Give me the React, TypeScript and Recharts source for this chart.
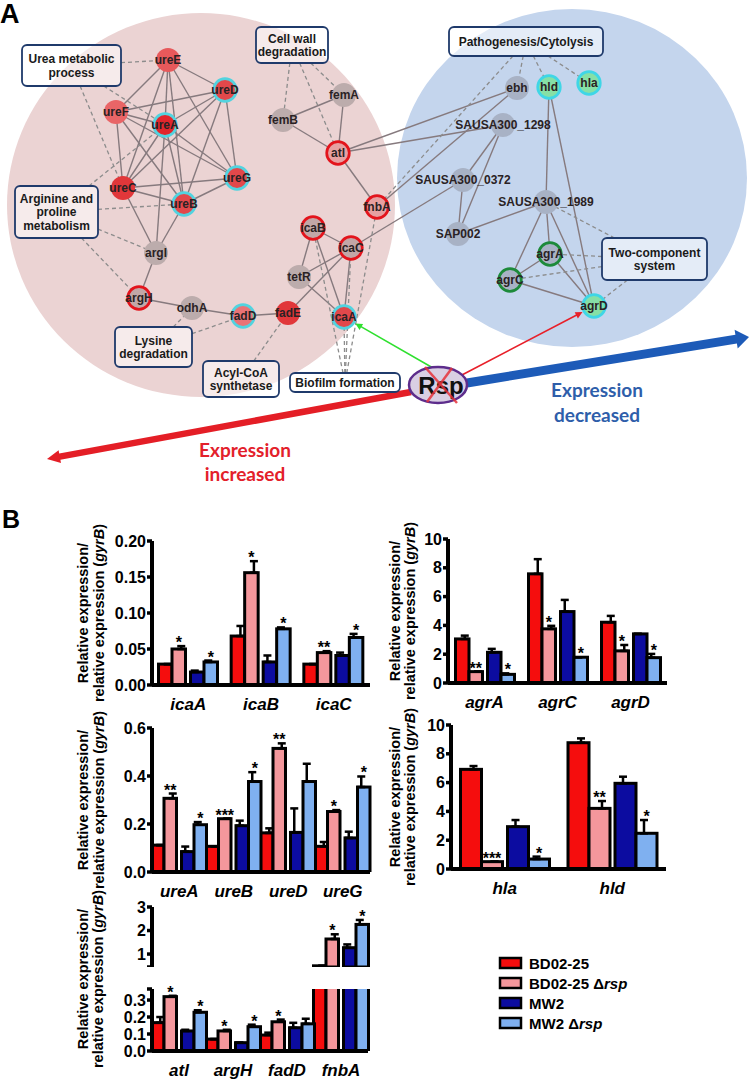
import React from 'react';
import { ScatterChart, Scatter, XAxis, YAxis, BarChart, Bar, ErrorBar, LabelList } from 'recharts';

const FONT = '"Liberation Sans", Arial, Helvetica, sans-serif';
const CAL = 'Lato, "Open Sans", sans-serif';

/* ======================= Panel B data ======================= */
const strainLabels = ['BD02-25', 'BD02-25', 'MW2', 'MW2'];
const strainIsDeletion = [false, true, false, true];

const icaGenes = ['icaA', 'icaB', 'icaC'];
const icaValues = [
  [0.029, 0.068, 0.029],
  [0.05, 0.156, 0.045],
  [0.018, 0.032, 0.041],
  [0.032, 0.078, 0.066],
];
const icaErrors = [
  [0, 0.014, 0],
  [0.004, 0.016, 0.002],
  [0.002, 0.009, 0.004],
  [0.002, 0.002, 0.005],
];
const icaStars = [
  ['', '', ''],
  ['*', '*', '**'],
  ['', '', ''],
  ['*', '*', '*'],
];
const icaTicks = [0, 0.05, 0.1, 0.15, 0.2];

const agrGenes = ['agrA', 'agrC', 'agrD'];
const agrValues = [
  [3.06, 7.58, 4.22],
  [0.79, 3.76, 2.23],
  [2.13, 4.96, 3.41],
  [0.6, 1.79, 1.76],
];
const agrErrors = [
  [0.23, 1.02, 0.44],
  [0, 0.21, 0.41],
  [0.24, 0.81, 0],
  [0.07, 0, 0.26],
];
const agrStars = [
  ['', '', ''],
  ['**', '*', '*'],
  ['', '', ''],
  ['*', '*', '*'],
];
const agrTicks = [0, 2, 4, 6, 8, 10];

const ureGenes = ['ureA', 'ureB', 'ureD', 'ureG'];
const ureValues = [
  [0.112, 0.107, 0.163, 0.107],
  [0.307, 0.222, 0.515, 0.252],
  [0.085, 0.193, 0.165, 0.142],
  [0.197, 0.377, 0.377, 0.354],
];
const ureErrors = [
  [0, 0, 0.019, 0.018],
  [0.02, 0, 0.021, 0.006],
  [0.021, 0.021, 0.1, 0.026],
  [0.011, 0.039, 0.074, 0.044],
];
const ureStars = [
  ['', '', '', ''],
  ['**', '***', '**', '*'],
  ['', '', '', ''],
  ['*', '*', '', '*'],
];
const ureTicks = [0, 0.2, 0.4, 0.6];

const hlGenes = ['hla', 'hld'];
const hlValues = [
  [6.92, 8.77],
  [0.51, 4.21],
  [2.94, 5.95],
  [0.69, 2.48],
];
const hlErrors = [
  [0.23, 0.3],
  [0, 0.51],
  [0.46, 0.46],
  [0.17, 0.92],
];
const hlStars = [
  ['', ''],
  ['***', '**'],
  ['', ''],
  ['*', '*'],
];
const hlTicks = [0, 2, 4, 6, 8, 10];

const miscGenes = ['atl', 'argH', 'fadD', 'fnbA'];
const miscValues = [
  [0.167, 0.07, 0.094, 0.5],
  [0.32, 0.118, 0.172, 1.64],
  [0.118, 0.049, 0.137, 1.27],
  [0.228, 0.143, 0.16, 2.26],
];
const miscErrors = [
  [0.033, 0, 0.014, 0],
  [0.005, 0.007, 0.013, 0.2],
  [0.007, 0, 0.029, 0.14],
  [0.012, 0.012, 0.03, 0.19],
];
const miscStars = [
  ['', '', '', ''],
  ['*', '*', '*', '*'],
  ['', '', '', ''],
  ['*', '*', '', '*'],
];
const miscUpperTicks = [0.45, 1, 2, 3];
const miscLowerTicks = [0, 0.1, 0.2, 0.3, 0.365];

/* ======================= Panel A data (network) ======================= */
const netNodes = [
  { id: 'ureE', x: 168, y: 60, kind: 'red' },
  { id: 'ureD', x: 225, y: 90, kind: 'redCyan' },
  { id: 'ureF', x: 116, y: 112, kind: 'redLight' },
  { id: 'ureA', x: 165, y: 125, kind: 'darkCyan' },
  { id: 'femA', x: 344, y: 95, kind: 'grey' },
  { id: 'femB', x: 283, y: 120, kind: 'grey' },
  { id: 'atl', x: 338, y: 153, kind: 'pinkRed' },
  { id: 'ureG', x: 237, y: 178, kind: 'redCyan' },
  { id: 'ureC', x: 123, y: 188, kind: 'dark' },
  { id: 'ureB', x: 184, y: 204, kind: 'redCyan' },
  { id: 'fnbA', x: 377, y: 207, kind: 'pinkRed' },
  { id: 'icaB', x: 313, y: 228, kind: 'greyRed' },
  { id: 'icaC', x: 351, y: 248, kind: 'greyRed' },
  { id: 'argI', x: 156, y: 253, kind: 'grey' },
  { id: 'tetR', x: 299, y: 277, kind: 'grey' },
  { id: 'argH', x: 139, y: 298, kind: 'greyRed' },
  { id: 'odhA', x: 192, y: 308, kind: 'grey' },
  { id: 'fadD', x: 243, y: 316, kind: 'pinkCyan' },
  { id: 'fadE', x: 288, y: 313, kind: 'dark' },
  { id: 'icaA', x: 344, y: 317, kind: 'redCyan' },
  { id: 'ebh', x: 517, y: 88, kind: 'slate' },
  { id: 'hld', x: 549, y: 87, kind: 'greenCyan' },
  { id: 'hla', x: 589, y: 83, kind: 'greenCyan' },
  { id: 'SAUSA300_1298', x: 503, y: 125, kind: 'slate' },
  { id: 'SAUSA300_0372', x: 463, y: 180, kind: 'slate' },
  { id: 'SAUSA300_1989', x: 546, y: 202, kind: 'slate' },
  { id: 'SAP002', x: 458, y: 234, kind: 'slate' },
  { id: 'agrA', x: 550, y: 254, kind: 'slateGreen' },
  { id: 'agrC', x: 510, y: 280, kind: 'slateGreen' },
  { id: 'agrD', x: 594, y: 306, kind: 'greenCyan' },
];

const netBoxes = [
  { id: 'urea', x: 71.5, y: 65.5, lines: ['Urea metabolic', 'process'] },
  { id: 'cellwall', x: 292, y: 45, lines: ['Cell wall', 'degradation'] },
  { id: 'arginine', x: 56.5, y: 212, lines: ['Arginine and', 'proline', 'metabolism'] },
  { id: 'lysine', x: 153.5, y: 347, lines: ['Lysine', 'degradation'] },
  { id: 'acyl', x: 241, y: 379, lines: ['Acyl-CoA', 'synthetase'] },
  { id: 'biofilm', x: 345, y: 382.5, lines: ['Biofilm formation'] },
  { id: 'patho', x: 526, y: 41.5, lines: ['Pathogenesis/Cytolysis'] },
  { id: 'twocomp', x: 654.5, y: 259, lines: ['Two-component', 'system'] },
];

const solidEdges = [
  ['ureE', 'ureD'], ['ureE', 'ureF'], ['ureE', 'ureA'], ['ureE', 'ureC'], ['ureE', 'ureB'], ['ureE', 'ureG'],
  ['ureF', 'ureD'], ['ureF', 'ureA'], ['ureF', 'ureC'], ['ureF', 'ureB'], ['ureF', 'ureG'],
  ['ureA', 'ureD'], ['ureA', 'ureC'], ['ureA', 'ureB'], ['ureA', 'ureG'],
  ['ureD', 'ureC'], ['ureD', 'ureB'], ['ureD', 'ureG'],
  ['ureC', 'ureG'], ['ureC', 'ureB'], ['ureB', 'ureG'],
  ['ureC', 'argI'], ['ureB', 'argI'], ['ureA', 'argI'],
  ['argI', 'argH'], ['argH', 'odhA'], ['odhA', 'fadD'], ['fadD', 'fadE'],
  ['fadE', 'icaC'], ['icaB', 'icaC'], ['icaB', 'tetR'], ['icaB', 'icaA'], ['icaC', 'tetR'], ['icaC', 'icaA'], ['tetR', 'icaA'],
  ['femB', 'femA'], ['femB', 'atl'], ['femA', 'atl'], ['atl', 'fnbA'],
  ['atl', 'ebh'], ['atl', 'SAUSA300_1298'], ['fnbA', 'ebh'], ['icaC', 'SAUSA300_0372'],
  ['SAUSA300_1298', 'SAUSA300_0372'], ['SAUSA300_1298', 'SAP002'], ['SAUSA300_0372', 'SAP002'],
  ['SAP002', 'SAUSA300_1989'], ['SAUSA300_1989', 'hld'], ['hld', 'agrD'],
  ['SAUSA300_1989', 'agrC'], ['SAUSA300_1989', 'agrA'], ['SAUSA300_1989', 'agrD'],
  ['agrA', 'agrC'], ['agrA', 'agrD'], ['agrC', 'agrD'],
];

const dashedEdges = [
  ['urea', 'ureE'], ['urea', 'ureA'], ['urea', 'ureC'],
  ['arginine', 'ureA'], ['arginine', 'ureB'], ['arginine', 'argI'], ['arginine', 'argH'],
  ['cellwall', 'femB'], ['cellwall', 'atl'], ['cellwall', 'femA'],
  ['lysine', 'odhA'], ['lysine', 'fadD'],
  ['acyl', 'fadE'],
  ['biofilm', 'icaA'], ['biofilm', 'icaC'], ['biofilm', 'icaB'], ['biofilm', 'fnbA'],
  ['patho', 'ebh'], ['patho', 'hld'], ['patho', 'hla'], ['patho', 'fnbA'],
  ['twocomp', 'agrA'], ['twocomp', 'agrC'], ['twocomp', 'agrD'], ['twocomp', 'SAUSA300_1989'],
];

const rspNode = [{ id: 'Rsp', x: 438, y: 385 }];
const rspLinks = [
  { target: 'icaA', x: 440, y: 372, kind: 'green' },
  { target: 'agrD', x: 460, y: 376, kind: 'red' },
];
const bigArrows = [
  { kind: 'up', from: { x: 411, y: 392 }, to: { x: 47, y: 459 } },
  { kind: 'down', from: { x: 467, y: 383 }, to: { x: 749, y: 337 } },
];
const regions = [
  { id: 'up', x: 201, y: 205 },
  { id: 'down', x: 572, y: 178 },
];
const panelTexts = [
  { x: 0, y: 23, t: 'A', kind: 'letter' },
  { x: 597, y: 397, t: 'Expression', kind: 'down' },
  { x: 597, y: 422, t: 'decreased', kind: 'down' },
  { x: 245, y: 457, t: 'Expression', kind: 'up' },
  { x: 245, y: 481, t: 'increased', kind: 'up' },
];

/* ======================= styles / layout ======================= */
const STRAIN_COLORS = ['#f50d0d', '#f4979c', '#0c0ca0', '#7fb0f0'];
const PAIR_SHIFT = [-2.5, -2.5, 2.5, 2.5];

const NODE_STYLE: Record<string, { fill: string; ring?: string }> = {
  red: { fill: '#e7595b' },
  redLight: { fill: '#e96567' },
  dark: { fill: '#e1373a' },
  redCyan: { fill: '#e2484b', ring: '#52d3df' },
  darkCyan: { fill: '#e2262c', ring: '#52d3df' },
  pinkCyan: { fill: '#ea7376', ring: '#52d3df' },
  grey: { fill: '#bcacac' },
  greyRed: { fill: '#c2a7a7', ring: '#e3141c' },
  pinkRed: { fill: '#e6a0a1', ring: '#e3141c' },
  slate: { fill: '#a8b2c5' },
  greenCyan: { fill: '#86e0a6', ring: '#3fd6e6' },
  slateGreen: { fill: '#a8b2c5', ring: '#1d8a3a' },
};
const BOX_SIZE: Record<string, [number, number]> = {
  urea: [99, 41], cellwall: [72, 36], arginine: [83, 52], lysine: [77, 40],
  acyl: [76, 36], biofilm: [110, 19], patho: [154, 29], twocomp: [105, 42],
};
const REGION_STYLE: Record<string, { rx: number; ry: number; fill: string }> = {
  up: { rx: 194, ry: 192, fill: '#ebd3d3' },
  down: { rx: 175, ry: 169, fill: '#c4d5ed' },
};
const ARROW_STYLE: Record<string, { color: string; shaft: number; headW: number; headL: number }> = {
  up: { color: '#e41e26', shaft: 6.5, headW: 13, headL: 13 },
  down: { color: '#1d5bb8', shaft: 9, headW: 19, headL: 13 },
  green: { color: '#2fe02f', shaft: 1.6, headW: 7, headL: 7 },
  red: { color: '#e8202a', shaft: 1.6, headW: 7, headL: 7 },
};
const TEXT_STYLE: Record<string, any> = {
  letter: { fontSize: 27, fontWeight: 'bold', fill: '#000', fontFamily: FONT, textAnchor: 'start' },
  down: { fontSize: 19, fontWeight: 'bold', fill: '#2e5eaa', fontFamily: CAL, textAnchor: 'middle' },
  up: { fontSize: 19, fontWeight: 'bold', fill: '#e3202a', fontFamily: CAL, textAnchor: 'middle' },
};

function arrowPolygon(ax: number, ay: number, bx: number, by: number, shaft: number, headW: number, headL: number) {
  const dx = bx - ax, dy = by - ay;
  const L = Math.hypot(dx, dy) || 1;
  const ux = dx / L, uy = dy / L;
  const nx = -uy, ny = ux;
  const cx = bx - ux * headL, cy = by - uy * headL;
  const s = shaft / 2, h = headW / 2;
  const P = [
    [ax + nx * s, ay + ny * s], [cx + nx * s, cy + ny * s], [cx + nx * h, cy + ny * h], [bx, by],
    [cx - nx * h, cy - ny * h], [cx - nx * s, cy - ny * s], [ax - nx * s, ay - ny * s],
  ];
  return P.map((p) => p[0].toFixed(1) + ',' + p[1].toFixed(1)).join(' ');
}

function clipToBox(b: { x: number; y: number; id: string }, tx: number, ty: number) {
  const [w, h] = BOX_SIZE[b.id];
  const dx = tx - b.x, dy = ty - b.y;
  const sx = w / 2 / Math.max(Math.abs(dx), 1e-6);
  const sy = h / 2 / Math.max(Math.abs(dy), 1e-6);
  const s = Math.min(sx, sy, 1);
  return { x: b.x + dx * s, y: b.y + dy * s };
}

const Empty = () => <g />;

const segmentsLine = (stroke: string, width: number, dash?: string) => (p: any) => {
  const pts = p.points || [];
  const out: any[] = [];
  for (let i = 0; i + 1 < pts.length; i += 2) {
    out.push(
      <line key={i} x1={pts[i].x} y1={pts[i].y} x2={pts[i + 1].x} y2={pts[i + 1].y}
        stroke={stroke} strokeWidth={width} strokeDasharray={dash} />
    );
  }
  return <g>{out}</g>;
};

const arrowLine = (kind: string) => (p: any) => {
  const pts = p.points || [];
  if (pts.length < 2) return <g />;
  const st = ARROW_STYLE[kind];
  return <polygon points={arrowPolygon(pts[0].x, pts[0].y, pts[1].x, pts[1].y, st.shaft, st.headW, st.headL)} fill={st.color} />;
};

const RegionShape = (p: any) => {
  const st = REGION_STYLE[p.payload.id];
  return <ellipse cx={p.cx} cy={p.cy} rx={st.rx} ry={st.ry} fill={st.fill} />;
};

const NodeShape = (p: any) => {
  const n = p.payload;
  const st = NODE_STYLE[n.kind];
  return (
    <g>
      <circle cx={p.cx} cy={p.cy} r={st.ring ? 11.3 : 12} fill={st.fill} stroke={st.ring || 'none'} strokeWidth={2.7} />
      <text x={p.cx} y={p.cy + 4.3} textAnchor="middle" fontSize={12} fontWeight="bold" fill="#2a2224" fontFamily={FONT}>{n.id}</text>
    </g>
  );
};

const BoxShape = (p: any) => {
  const b = p.payload;
  const [w, h] = BOX_SIZE[b.id];
  const n = b.lines.length;
  return (
    <g>
      <rect x={p.cx - w / 2} y={p.cy - h / 2} width={w} height={h} rx={5} ry={5}
        fill="rgba(255,255,255,0.55)" stroke="#1f3a6b" strokeWidth={1.8} />
      {b.lines.map((ln: string, i: number) => (
        <text key={i} x={p.cx} y={p.cy - (n - 1) * 6.75 + i * 13.5 + 4.3} textAnchor="middle"
          fontSize={12} fontWeight="bold" fill="#1a1a1a" fontFamily={FONT}>{ln}</text>
      ))}
    </g>
  );
};

const RspShape = (p: any) => (
  <g>
    <ellipse cx={p.cx} cy={p.cy} rx={29} ry={18} fill="#d9cfe3" stroke="#5d2d8c" strokeWidth={2.5} />
    <text x={p.cx + 3} y={p.cy + 9} textAnchor="middle" fontSize={24} fontWeight="bold" fill="#111" fontFamily={FONT}>{p.payload.id}</text>
    <line x1={p.cx - 13} y1={p.cy - 18} x2={p.cx + 19} y2={p.cy + 18} stroke="#e5333b" strokeWidth={2.5} strokeOpacity={0.85} />
    <line x1={p.cx + 14} y1={p.cy - 17} x2={p.cx - 11} y2={p.cy + 17} stroke="#e5333b" strokeWidth={2.5} strokeOpacity={0.85} />
  </g>
);

const TextShape = (p: any) => {
  const d = p.payload;
  return <text x={p.cx} y={p.cy} {...TEXT_STYLE[d.kind]}>{d.t}</text>;
};

function NetworkPanel() {
  const nodeMap: Record<string, any> = {};
  netNodes.forEach((n) => (nodeMap[n.id] = n));
  const boxMap: Record<string, any> = {};
  netBoxes.forEach((b) => (boxMap[b.id] = b));
  const solidPts = solidEdges.flatMap(([a, b]) => [
    { x: nodeMap[a].x, y: nodeMap[a].y }, { x: nodeMap[b].x, y: nodeMap[b].y },
  ]);
  const dashedPts = dashedEdges.flatMap(([bx, n]) => {
    const t = nodeMap[n];
    return [clipToBox(boxMap[bx], t.x, t.y), { x: t.x, y: t.y }];
  });
  const linkArrows = rspLinks.map((l) => {
    const t = nodeMap[l.target];
    const dx = l.x - t.x, dy = l.y - t.y;
    const L = Math.hypot(dx, dy);
    return { kind: l.kind, pts: [{ x: l.x, y: l.y }, { x: t.x + (dx / L) * 13, y: t.y + (dy / L) * 13 }] };
  });
  return (
    <ScatterChart width={750} height={520} margin={{ top: 0, right: 0, bottom: 0, left: 0 }}>
      <XAxis type="number" dataKey="x" domain={[0, 750]} allowDataOverflow hide />
      <YAxis type="number" dataKey="y" domain={[0, 520]} allowDataOverflow reversed hide />
      <Scatter data={regions} shape={RegionShape} isAnimationActive={false} />
      {bigArrows.map((a, i) => (
        <Scatter key={'ba' + i} data={[a.from, a.to]} line={arrowLine(a.kind)} shape={Empty} isAnimationActive={false} />
      ))}
      <Scatter data={solidPts} line={segmentsLine('#867a7e', 1.4)} shape={Empty} isAnimationActive={false} />
      <Scatter data={dashedPts} line={segmentsLine('#8c8c8c', 1.3, '4 3')} shape={Empty} isAnimationActive={false} />
      {linkArrows.map((a, i) => (
        <Scatter key={'la' + i} data={a.pts} line={arrowLine(a.kind)} shape={Empty} isAnimationActive={false} />
      ))}
      <Scatter data={netNodes} shape={NodeShape} isAnimationActive={false} />
      <Scatter data={netBoxes} shape={BoxShape} isAnimationActive={false} />
      <Scatter data={rspNode} shape={RspShape} isAnimationActive={false} />
      <Scatter data={panelTexts} shape={TextShape} isAnimationActive={false} />
    </ScatterChart>
  );
}

/* ======================= bar charts ======================= */
type Lay = { left: number; top: number; w: number; h: number; domain: [number, number]; barSize: number };

const layIca: Lay = { left: 152, top: 541, w: 218, h: 144, domain: [0, 0.2], barSize: 13.5 };
const layAgr: Lay = { left: 448, top: 539, w: 219, h: 144, domain: [0, 10], barSize: 13.5 };
const layUre: Lay = { left: 152, top: 728, w: 218, h: 144, domain: [0, 0.6], barSize: 12.5 };
const layHl: Lay = { left: 451, top: 725, w: 215, h: 144, domain: [0, 10], barSize: 21 };
const layMiscTop: Lay = { left: 152, top: 907, w: 216, h: 60, domain: [0.45, 3], barSize: 12.5 };
const layMiscBot: Lay = { left: 152, top: 989, w: 216, h: 62, domain: [0, 0.365], barSize: 12.5 };

const barShape = (dx: number, key: string, minVal: number) => (p: any) => {
  const v = p.payload ? p.payload[key] : undefined;
  if (typeof v === 'number' && v <= minVal) return <g />;
  let y = p.y, h = p.height;
  if (h < 0) { y = y + h; h = -h; }
  if (!isFinite(y) || !isFinite(h)) return <g />;
  return <rect x={p.x + dx} y={y} width={p.width} height={h} fill={p.fill} stroke="#000" strokeWidth={3} />;
};

function ExprChart(props: {
  genes: string[]; values: number[][]; errors: number[][]; stars: string[][];
  ticks: number[]; blank?: number[]; decimals: number; lay: Lay; showX: boolean;
}) {
  const { genes, values, errors, stars, ticks, decimals, lay, showX } = props;
  const blank = props.blank || [];
  const KEYS = ['s0', 's1', 's2', 's3'];
  const data = genes.map((g, i) => {
    const row: any = { gene: g };
    KEYS.forEach((k, j) => {
      row[k] = values[j][i];
      row[k + 'e'] = [0, errors[j][i]];
      row[k + 's'] = stars[j][i];
    });
    return row;
  });
  const yw = 64, mt = 12, mr = 4;
  const xh = showX ? 34 : 0;
  const [d0, d1] = lay.domain;
  const ppu = lay.h / (d1 - d0);
  const fmt = (v: number) => (blank.includes(v) ? '' : v.toFixed(decimals));
  const starRenderer = (k: string, dx: number) => (p: any) => {
    const row = data[p.index];
    if (!row || !row[k + 's']) return null;
    const v = row[k];
    const e = row[k + 'e'][1];
    if (v <= d0 || v + e >= d1) return null;
    const vb = p.viewBox || p;
    const cx = vb.x + vb.width / 2 + dx;
    const yTop = mt + (d1 - (v + e)) * ppu;
    return (
      <text x={cx} y={yTop + 2} textAnchor="middle" fontSize={16} fontWeight="bold" fontFamily={FONT} fill="#000">
        {row[k + 's']}
      </text>
    );
  };
  return (
    <div style={{ position: 'absolute', left: lay.left - yw, top: lay.top - mt }}>
      <BarChart width={yw + lay.w + mr} height={mt + lay.h + xh} data={data}
        margin={{ top: mt, right: mr, bottom: 0, left: 0 }} barGap={0} barSize={lay.barSize}>
        <XAxis dataKey="gene" type="category" hide={!showX} interval={0} height={showX ? xh : 0}
          tickLine={false} tickSize={0} tickMargin={13}
          axisLine={{ stroke: '#000', strokeWidth: 4 }}
          tick={{ fill: '#000', fontSize: 17, fontWeight: 'bold', fontStyle: 'italic', fontFamily: FONT }} />
        <YAxis type="number" width={yw} domain={lay.domain} allowDataOverflow ticks={ticks} interval={0}
          tickFormatter={fmt} tickSize={5} tickMargin={1}
          axisLine={{ stroke: '#000', strokeWidth: 4 }} tickLine={{ stroke: '#000', strokeWidth: 3.5 }}
          tick={{ fill: '#000', fontSize: 16, fontWeight: 'bold', fontFamily: FONT }} />
        {KEYS.map((k, j) => (
          <Bar key={k} dataKey={k} fill={STRAIN_COLORS[j]} isAnimationActive={false} shape={barShape(PAIR_SHIFT[j], k, d0 > 0 ? d0 : -Infinity)}>
            <ErrorBar dataKey={k + 'e'} direction="y" width={4} stroke="#000" strokeWidth={2.5} />
            <LabelList dataKey={k + 's'} content={starRenderer(k, PAIR_SHIFT[j])} />
          </Bar>
        ))}
      </BarChart>
    </div>
  );
}

/* ======================= overlay texts ======================= */
const titleSpots = [
  { x1: 88, x2: 104, cy: 613 },
  { x1: 400, x2: 415, cy: 611 },
  { x1: 88, x2: 104, cy: 800 },
  { x1: 400, x2: 415, cy: 797 },
  { x1: 88, x2: 103, cy: 979 },
];
const legendRowsY = [963, 983, 1003, 1023];

function Overlay() {
  return (
    <svg width={750} height={1080} style={{ position: 'absolute', left: 0, top: 0, pointerEvents: 'none' }} fontFamily={FONT}>
      <text x={2} y={528} fontSize={25} fontWeight="bold" fill="#000">B</text>
      {titleSpots.map((t, i) => (
        <g key={i} fontSize={14.5} fontWeight="bold" fill="#000">
          <text transform={`translate(${t.x1},${t.cy}) rotate(-90)`} textAnchor="middle">Relative expression/</text>
          <text transform={`translate(${t.x2},${t.cy}) rotate(-90)`} textAnchor="middle">
            relative expression (<tspan fontStyle="italic">gyrB</tspan>)
          </text>
        </g>
      ))}
      {strainLabels.map((s, i) => (
        <g key={'lg' + i}>
          <rect x={500} y={legendRowsY[i] - 5} width={21} height={10} fill={STRAIN_COLORS[i]} stroke="#000" strokeWidth={2.5} />
          <text x={529} y={legendRowsY[i] + 5.5} fontSize={15} fontWeight="bold" fill="#000">
            {s}
            {strainIsDeletion[i] ? ' Δ' : ''}
            {strainIsDeletion[i] ? <tspan fontStyle="italic">rsp</tspan> : null}
          </text>
        </g>
      ))}
    </svg>
  );
}

export default function App() {
  return (
    <div style={{ position: 'absolute', left: 0, top: 0, width: 750, height: 1080, background: '#fff', fontFamily: FONT, overflow: 'hidden' }}>
      <div style={{ position: 'absolute', left: 0, top: 0 }}>
        <NetworkPanel />
      </div>
      <ExprChart genes={icaGenes} values={icaValues} errors={icaErrors} stars={icaStars} ticks={icaTicks} decimals={2} lay={layIca} showX />
      <ExprChart genes={agrGenes} values={agrValues} errors={agrErrors} stars={agrStars} ticks={agrTicks} decimals={0} lay={layAgr} showX />
      <ExprChart genes={ureGenes} values={ureValues} errors={ureErrors} stars={ureStars} ticks={ureTicks} decimals={1} lay={layUre} showX />
      <ExprChart genes={hlGenes} values={hlValues} errors={hlErrors} stars={hlStars} ticks={hlTicks} decimals={0} lay={layHl} showX />
      <ExprChart genes={miscGenes} values={miscValues} errors={miscErrors} stars={miscStars} ticks={miscUpperTicks} blank={[0.45]} decimals={0} lay={layMiscTop} showX={false} />
      <ExprChart genes={miscGenes} values={miscValues} errors={miscErrors} stars={miscStars} ticks={miscLowerTicks} blank={[0.365]} decimals={1} lay={layMiscBot} showX />
      <Overlay />
    </div>
  );
}
